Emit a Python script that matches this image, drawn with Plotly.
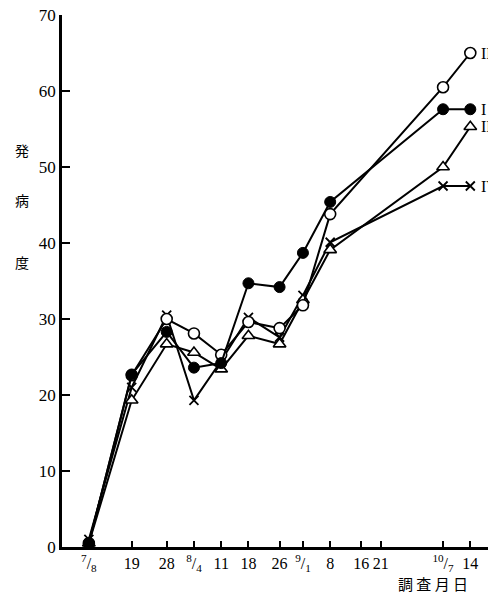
import plotly.graph_objects as go

# days counted from 7/8
days = [0, 11, 20, 27, 34, 41, 49, 55, 62, 91, 98]
tick_days = [0, 11, 20, 27, 34, 41, 49, 55, 62, 70, 75, 91, 98]
tick_text = ["<sup>7</sup>/<sub>8</sub>", "19", "28", "<sup>8</sup>/<sub>4</sub>", "11", "18", "26",
             "<sup>9</sup>/<sub>1</sub>", "8", "16", "21", "<sup>10</sup>/<sub>7</sub>", "14"]

series_I = [0.5, 22.7, 28.3, 23.6, 24.2, 34.7, 34.2, 38.7, 45.4, 57.6, 57.6]
series_II = [0.5, 19.3, 26.7, 25.6, 23.4, 27.8, 26.7, 32.5, 39.1, 50.0, 55.3]
series_III = [0.5, 22.6, 30.0, 28.1, 25.3, 29.6, 28.8, 31.8, 43.8, 60.5, 65.0]
series_IV = [1.0, 21.0, 30.5, 19.3, 24.5, 30.2, 27.6, 33.1, 40.1, 47.5, 47.5]

fig = go.Figure()

def add(y, symbol, color, size, lw):
    fig.add_trace(go.Scatter(
        x=days, y=y, mode="lines+markers", cliponaxis=False,
        line=dict(color="black", width=2),
        marker=dict(symbol=symbol, size=size, color=color,
                    line=dict(color="black", width=lw)),
        showlegend=False))

add(series_IV, "x-thin", "black", 9, 1.8)
add(series_II, "triangle-up", "white", 11, 1.6)
add(series_III, "circle", "white", 11, 1.6)
add(series_I, "circle", "black", 11, 1.0)

serif = "Liberation Serif"
labels = [("III", series_III[-1]), ("I", series_I[-1]), ("II", series_II[-1]), ("IV", series_IV[-1])]
for txt, yv in labels:
    fig.add_annotation(x=100.3, y=yv, text=txt, showarrow=False, xanchor="left",
                       yanchor="middle", font=dict(family=serif, size=16, color="black"))

for ch, yp in [("発", 0.769), ("病", 0.652), ("度", 0.536)]:
    fig.add_annotation(xref="paper", yref="paper", x=-0.112, y=yp, text=ch, showarrow=False,
                       font=dict(family="Noto Sans CJK JP", size=14, color="black"))

fig.add_annotation(xref="x", yref="paper", x=88.5, y=-0.068, text="調 査 月 日", showarrow=False,
                   yanchor="middle", font=dict(family="Noto Sans CJK JP", size=15, color="black"))

# page body has an 8px default margin, so the figure is sized to compensate
fig.update_layout(
    width=488, height=586,
    margin=dict(l=54, r=0, t=7, b=47, autoexpand=False),
    plot_bgcolor="white", paper_bgcolor="white",
    font=dict(family=serif, size=16, color="black"),
    xaxis=dict(range=[-6.9, 104.6], tickvals=tick_days, ticktext=tick_text,
               ticks="inside", ticklen=6, tickwidth=2, tickcolor="black",
               showline=True, linecolor="black", linewidth=2.5, showgrid=False,
               zeroline=False, tickfont=dict(family=serif, size=16), automargin=False,
               ticklabeloverflow="allow"),
    yaxis=dict(range=[0, 70], tickvals=[0, 10, 20, 30, 40, 50, 60, 70],
               ticks="inside", ticklen=8, tickwidth=2, tickcolor="black",
               showline=True, linecolor="black", linewidth=2.5, showgrid=False,
               zeroline=False, tickfont=dict(family=serif, size=17), automargin=False,
               ticklabeloverflow="allow"),
)

fig.write_html("out.html")
